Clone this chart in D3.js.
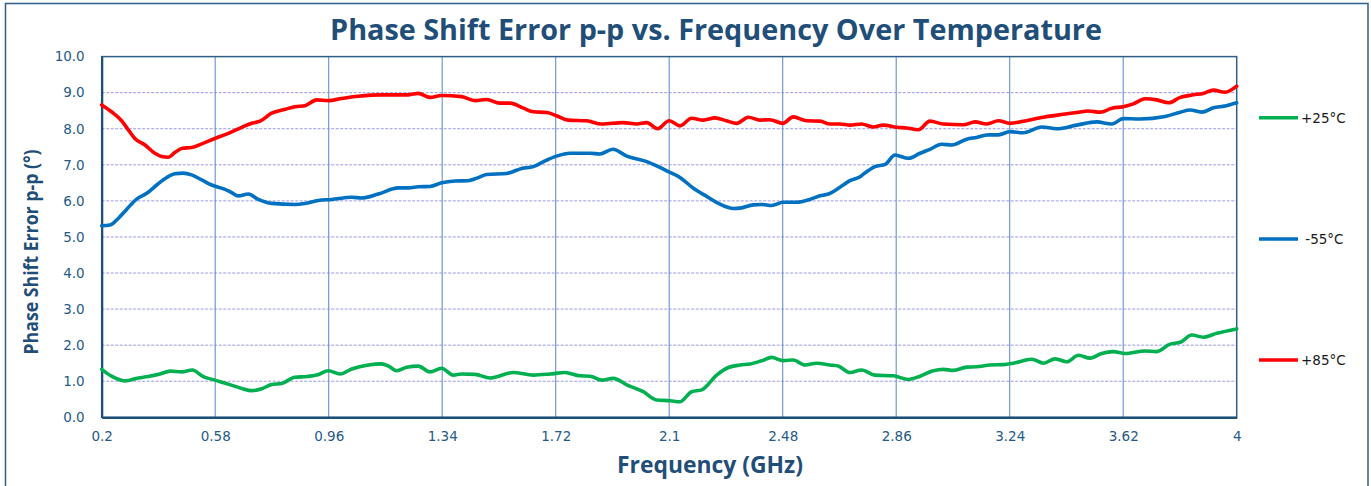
<!DOCTYPE html>
<html><head><meta charset="utf-8">
<script src="https://cdn.jsdelivr.net/npm/d3@7"></script>
<style>
html,body{margin:0;padding:0;background:#fff;}
svg{display:block;}
</style></head>
<body>
<svg id="chart" width="1371" height="486"></svg>
<script>
// ---------- data ----------
const chartTitle = "Phase Shift Error p-p vs. Frequency Over Temperature";
const xAxisTitle = "Frequency (GHz)";
const yAxisTitle = "Phase Shift Error p-p (°)";
const xTickValues = [0.2, 0.58, 0.96, 1.34, 1.72, 2.1, 2.48, 2.86, 3.24, 3.62, 4];
const xTickLabels = ["0.2","0.58","0.96","1.34","1.72","2.1","2.48","2.86","3.24","3.62","4"];
const yTickValues = [0,1,2,3,4,5,6,7,8,9,10];
const yTickLabels = ["0.0","1.0","2.0","3.0","4.0","5.0","6.0","7.0","8.0","9.0","10.0"];
const seriesNames = ["+25°C", " -55°C", "+85°C"];
const seriesColors = ["#00B050", "#0070C0", "#FF0000"];

const freq25 = [0.200,0.233,0.278,0.323,0.356,0.395,0.429,0.468,0.503,0.540,0.579,0.624,0.669,0.702,0.736,0.769,0.803,0.847,0.887,0.920,0.959,0.998,1.037,1.093,1.137,1.160,1.188,1.221,1.260,1.299,1.338,1.377,1.405,1.450,1.500,1.578,1.645,1.701,1.751,1.801,1.835,1.874,1.913,1.958,2.013,2.058,2.103,2.136,2.175,2.209,2.259,2.298,2.337,2.371,2.410,2.443,2.482,2.515,2.555,2.594,2.638,2.666,2.705,2.744,2.789,2.850,2.901,2.940,2.984,3.018,3.051,3.096,3.129,3.174,3.219,3.252,3.314,3.353,3.392,3.431,3.470,3.509,3.548,3.587,3.626,3.693,3.732,3.777,3.811,3.850,3.888,3.933,4.000];
const err25  = [1.33,1.14,1.01,1.09,1.13,1.20,1.28,1.26,1.31,1.13,1.03,0.92,0.80,0.74,0.79,0.91,0.94,1.11,1.13,1.17,1.29,1.20,1.34,1.45,1.48,1.42,1.29,1.39,1.42,1.26,1.36,1.17,1.20,1.19,1.09,1.24,1.17,1.20,1.24,1.15,1.14,1.03,1.08,0.90,0.71,0.48,0.46,0.43,0.71,0.76,1.17,1.38,1.45,1.48,1.57,1.66,1.57,1.59,1.45,1.50,1.45,1.42,1.24,1.31,1.17,1.15,1.05,1.14,1.29,1.33,1.30,1.39,1.40,1.45,1.46,1.50,1.61,1.50,1.62,1.54,1.72,1.64,1.77,1.82,1.77,1.84,1.82,2.03,2.08,2.28,2.22,2.33,2.45];

const freq55 = [0.200,0.228,0.256,0.284,0.317,0.351,0.384,0.418,0.445,0.473,0.501,0.535,0.568,0.613,0.635,0.657,0.691,0.724,0.769,0.847,0.881,0.925,0.970,1.037,1.070,1.126,1.193,1.227,1.260,1.299,1.338,1.383,1.427,1.456,1.489,1.556,1.606,1.645,1.690,1.723,1.768,1.835,1.868,1.911,1.958,2.025,2.058,2.097,2.136,2.181,2.226,2.270,2.315,2.337,2.382,2.410,2.443,2.482,2.527,2.571,2.605,2.633,2.672,2.705,2.739,2.761,2.789,2.823,2.856,2.901,2.940,2.973,3.012,3.046,3.096,3.129,3.168,3.202,3.241,3.286,3.347,3.398,3.464,3.531,3.582,3.620,3.676,3.760,3.811,3.844,3.883,3.922,3.961,4.000];
const err55  = [5.31,5.33,5.52,5.77,6.05,6.21,6.44,6.65,6.75,6.77,6.72,6.58,6.44,6.32,6.23,6.14,6.19,6.04,5.93,5.90,5.93,6.01,6.04,6.10,6.08,6.19,6.36,6.36,6.39,6.40,6.50,6.55,6.56,6.63,6.73,6.76,6.90,6.95,7.13,7.24,7.32,7.32,7.30,7.43,7.24,7.09,6.97,6.81,6.65,6.35,6.12,5.91,5.79,5.80,5.89,5.90,5.87,5.96,5.96,6.04,6.14,6.19,6.38,6.56,6.67,6.81,6.95,7.01,7.27,7.18,7.32,7.43,7.57,7.55,7.71,7.76,7.83,7.83,7.92,7.89,8.05,8.00,8.10,8.19,8.13,8.28,8.27,8.34,8.46,8.52,8.46,8.58,8.63,8.72];

const freq85 = [0.200,0.233,0.267,0.289,0.311,0.345,0.378,0.401,0.423,0.445,0.470,0.501,0.535,0.579,0.624,0.669,0.702,0.730,0.769,0.814,0.847,0.881,0.920,0.959,1.004,1.059,1.137,1.227,1.260,1.299,1.338,1.405,1.450,1.489,1.533,1.567,1.612,1.645,1.690,1.723,1.762,1.824,1.874,1.946,1.991,2.025,2.061,2.100,2.136,2.175,2.214,2.253,2.292,2.326,2.365,2.404,2.437,2.480,2.515,2.560,2.605,2.638,2.672,2.705,2.744,2.783,2.817,2.862,2.895,2.934,2.973,3.018,3.085,3.124,3.163,3.202,3.241,3.286,3.353,3.419,3.464,3.503,3.543,3.582,3.620,3.654,3.693,3.732,3.772,3.811,3.855,3.888,3.922,3.961,4.000];
const err85  = [8.66,8.47,8.22,7.97,7.73,7.55,7.32,7.23,7.21,7.34,7.46,7.48,7.58,7.73,7.87,8.04,8.15,8.21,8.43,8.54,8.61,8.64,8.80,8.78,8.84,8.90,8.94,8.94,8.98,8.87,8.92,8.89,8.78,8.81,8.71,8.71,8.57,8.47,8.45,8.36,8.24,8.22,8.13,8.17,8.13,8.17,8.00,8.22,8.08,8.29,8.24,8.30,8.22,8.15,8.32,8.24,8.25,8.15,8.33,8.22,8.21,8.13,8.13,8.10,8.13,8.05,8.10,8.04,8.02,7.97,8.21,8.13,8.11,8.19,8.13,8.22,8.15,8.21,8.32,8.40,8.45,8.49,8.46,8.57,8.61,8.69,8.83,8.80,8.72,8.87,8.94,8.98,9.07,9.01,9.18];

const seriesFreqs = [freq25, freq55, freq85];
const seriesErrs = [err25, err55, err85];

// ---------- layout ----------
const svg = d3.select("#chart");
const W = 1371, H = 486;
const plot = {left: 101.7, right: 1236.7, top: 56.6, bottom: 417.3};
const navy = "#1F4E79";

const x = d3.scaleLinear().domain([0.2, 4]).range([plot.left, plot.right]);
const y = d3.scaleLinear().domain([0, 10]).range([plot.bottom, plot.top]);

// outer frame
svg.append("rect").attr("x", 5.5).attr("y", 3.5).attr("width", 1362.5).attr("height", 490)
  .attr("fill", "none").attr("stroke", "#2E5F8A").attr("stroke-width", 1.5);

// horizontal gridlines
svg.append("g").selectAll("line").data(yTickValues.filter(v => v > 0 && v < 10)).join("line")
  .attr("x1", plot.left).attr("x2", plot.right)
  .attr("y1", d => y(d)).attr("y2", d => y(d))
  .attr("stroke", "#9a9ae8").attr("stroke-width", 1).attr("stroke-dasharray", "3,1.5");

// vertical gridlines
svg.append("g").selectAll("line").data(xTickValues.filter(v => v > 0.2 && v < 4)).join("line")
  .attr("x1", d => x(d)).attr("x2", d => x(d))
  .attr("y1", plot.top).attr("y2", plot.bottom)
  .attr("stroke", "#6890cf").attr("stroke-width", 1.1);

// plot frame
svg.append("rect").attr("x", plot.left).attr("y", plot.top)
  .attr("width", plot.right - plot.left).attr("height", plot.bottom - plot.top)
  .attr("fill", "none").attr("stroke", "#2E5F8A").attr("stroke-width", 1.5);

// axes
const yAxis = d3.axisLeft(y).tickValues(yTickValues).tickFormat((d, i) => yTickLabels[i]).tickSize(0).tickPadding(17);
const gy = svg.append("g").attr("transform", `translate(${plot.left},0)`).call(yAxis);
const xAxis = d3.axisBottom(x).tickValues(xTickValues).tickFormat((d, i) => xTickLabels[i]).tickSize(0).tickPadding(14);
const gx = svg.append("g").attr("transform", `translate(0,${plot.bottom})`).call(xAxis);
[gx, gy].forEach(g => {
  g.select(".domain").attr("stroke", navy).attr("stroke-width", 2.2);
  g.selectAll("text").attr("font-family", "'DejaVu Sans', Verdana, sans-serif")
    .attr("font-size", "13.5px").attr("fill", "#245a88");
});

// series lines
const line = d3.line().curve(d3.curveMonotoneX);
seriesFreqs.forEach((fs, i) => {
  const pts = fs.map((f, j) => [x(f), y(seriesErrs[i][j])]);
  svg.append("path").attr("d", line(pts)).attr("fill", "none")
    .attr("stroke", seriesColors[i]).attr("stroke-width", 3.6)
    .attr("stroke-linejoin", "round").attr("stroke-linecap", "round");
});

// legend
const legendY = [117.7, 239, 360];
seriesNames.forEach((n, i) => {
  svg.append("line").attr("x1", 1259).attr("x2", 1298).attr("y1", legendY[i]).attr("y2", legendY[i])
    .attr("stroke", seriesColors[i]).attr("stroke-width", 3.6);
  svg.append("text").attr("x", 1301).attr("y", legendY[i]).attr("dy", "0.36em")
    .attr("font-family", "'DejaVu Sans', Verdana, sans-serif").attr("font-size", "13.5px")
    .attr("fill", "#1a1a1a").attr("xml:space", "preserve").style("white-space", "pre").text(n);
});

// titles
function fitText(sel, target) {
  const w = sel.node().getComputedTextLength();
  const fs = parseFloat(sel.attr("font-size"));
  sel.attr("font-size", (fs * target / w).toFixed(2) + "px");
}
const t = svg.append("text").attr("x", 716).attr("y", 39.5).attr("text-anchor", "middle")
  .attr("font-family", "'Open Sans', sans-serif").attr("font-weight", 700).attr("font-size", "24px")
  .attr("fill", navy).text(chartTitle);
fitText(t, 772);

const xt = svg.append("text").attr("x", 710).attr("y", 472.5).attr("text-anchor", "middle")
  .attr("font-family", "'Open Sans', sans-serif").attr("font-weight", 700).attr("font-size", "18px")
  .attr("fill", navy).text(xAxisTitle);
fitText(xt, 186);

const yt = svg.append("text").attr("transform", "translate(37.5,252) rotate(-90)").attr("text-anchor", "middle")
  .attr("font-family", "'Open Sans', sans-serif").attr("font-weight", 700).attr("font-size", "20px")
  .attr("fill", navy).text(yAxisTitle);
yt.attr("textLength", 205).attr("lengthAdjust", "spacingAndGlyphs");
</script>
</body></html>
